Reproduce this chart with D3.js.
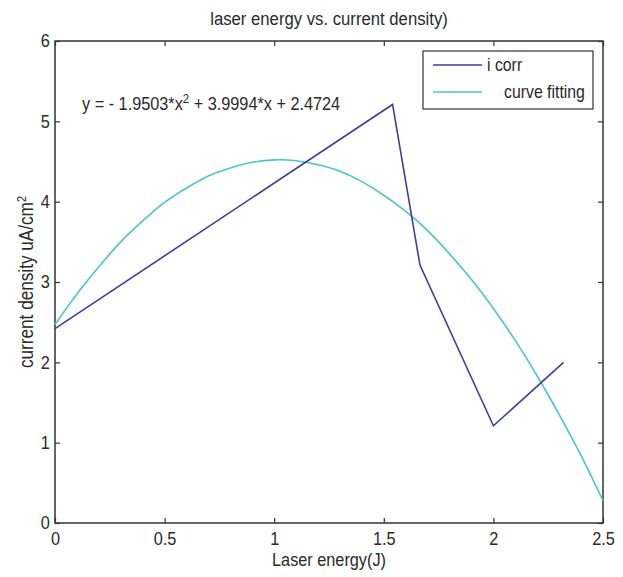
<!DOCTYPE html>
<html>
<head>
<meta charset="utf-8">
<script src="https://cdn.jsdelivr.net/npm/d3@7"></script>
<style>
  body { margin: 0; background: #fff; }
  text { font-family: "Liberation Sans", Arial, sans-serif; fill: #2a2a2a; }
</style>
</head>
<body>
<div id="graph"></div>
<script>
// i corr measurements
var corrX = [0, 1.54, 1.665, 2.0, 2.32];
var corrY = [2.42, 5.21, 3.21, 1.21, 2.0];

// curve fitting
var fitX = [0, 0.1, 0.2, 0.3, 0.4, 0.5, 0.6, 0.7, 0.8, 0.9, 1.0, 1.1, 1.2, 1.3,
            1.4, 1.5, 1.6, 1.7, 1.8, 1.9, 2.0, 2.1, 2.2, 2.3, 2.4, 2.5];
var fitY = [2.47, 2.85, 3.19, 3.50, 3.76, 3.99, 4.17, 4.32, 4.42, 4.49, 4.52, 4.51, 4.46, 4.38,
            4.25, 4.08, 3.88, 3.64, 3.35, 3.03, 2.67, 2.27, 1.83, 1.35, 0.84, 0.28];

var xTicks = [0, 0.5, 1, 1.5, 2, 2.5];
var yTicks = [0, 1, 2, 3, 4, 5, 6];
var seriesNames = ["i corr", "curve fitting"];
var colors = ["#3e3e9c", "#4cc6c6"];

var width = 623, height = 577;
var margin = { top: 41, right: 20, bottom: 54, left: 55 };
var w = width - margin.left - margin.right,
    h = height - margin.top - margin.bottom;
var squeeze = 0.88; // the text in the picture is horizontally compressed

var svg = d3.select("#graph")
  .append("svg")
  .attr("width", width)
  .attr("height", height);

var g = svg.append("g")
  .attr("transform", "translate(" + margin.left + "," + margin.top + ")");

var x = d3.scaleLinear().domain([0, 2.5]).range([0, w]);
var y = d3.scaleLinear().domain([0, 6]).range([h, 0]);

// narrow text placed at (px, py)
function label(parent, px, py, size, anchor) {
  return parent.append("g")
    .attr("transform", "translate(" + px + "," + py + ") scale(" + squeeze + ",1)")
    .append("text")
    .style("text-anchor", anchor || "start")
    .style("font-size", size + "px");
}

// title
label(svg, margin.left + w / 2, 25, 19, "middle")
  .text("laser energy vs. current density)");

// axes with inward ticks, box style
function styleAxis(sel) {
  sel.select(".domain").remove();
  sel.selectAll(".tick line").attr("stroke", "#333").attr("stroke-width", 1.2);
  sel.selectAll(".tick text")
    .style("font-size", "18.5px")
    .attr("fill", "#2a2a2a")
    .attr("transform", "scale(" + squeeze + ",1)");
}

g.append("g")
  .attr("transform", "translate(0," + h + ")")
  .call(d3.axisBottom(x).tickValues(xTicks).tickSize(-5).tickPadding(9)
    .tickFormat(function(d) { return d; }))
  .call(styleAxis);

g.append("g")
  .call(d3.axisTop(x).tickValues(xTicks).tickSize(-5).tickFormat(""))
  .call(styleAxis);

g.append("g")
  .call(d3.axisLeft(y).tickValues(yTicks).tickSize(-5).tickPadding(6)
    .tickFormat(function(d) { return d; }))
  .call(styleAxis);

g.append("g")
  .attr("transform", "translate(" + w + ",0)")
  .call(d3.axisRight(y).tickValues(yTicks).tickSize(-5).tickFormat(""))
  .call(styleAxis);

g.append("rect")
  .attr("width", w)
  .attr("height", h)
  .attr("fill", "none")
  .attr("stroke", "#333")
  .attr("stroke-width", 1.5);

// lines
var line = d3.line()
  .x(function(d) { return x(d[0]); })
  .y(function(d) { return y(d[1]); });

g.append("path")
  .datum(d3.zip(fitX, fitY))
  .attr("fill", "none")
  .attr("stroke", colors[1])
  .attr("stroke-width", 1.6)
  .attr("d", line.curve(d3.curveNatural));

g.append("path")
  .datum(d3.zip(corrX, corrY))
  .attr("fill", "none")
  .attr("stroke", colors[0])
  .attr("stroke-width", 1.6)
  .attr("d", line.curve(d3.curveLinear));

// equation
var eq = label(g, 27, 69, 18.5);
eq.append("tspan").text("y = - 1.9503*x");
eq.append("tspan").attr("dy", -7).style("font-size", "13px").text("2");
eq.append("tspan").attr("dy", 7).text(" + 3.9994*x + 2.4724");

// legend
var leg = g.append("g").attr("transform", "translate(" + (x(2.5) - 180) + ",10)");
leg.append("rect")
  .attr("width", 170)
  .attr("height", 58)
  .attr("fill", "#fff")
  .attr("stroke", "#333")
  .attr("stroke-width", 1.2);
seriesNames.forEach(function(name, i) {
  var yy = 14 + i * 27;
  leg.append("line")
    .attr("x1", 10).attr("x2", 59)
    .attr("y1", yy).attr("y2", yy)
    .attr("stroke", colors[i])
    .attr("stroke-width", 1.6);
  label(leg, i == 0 ? 64 : 81, yy + 6, 18).text(name);
});

// axis labels
label(svg, margin.left + w / 2, 566, 18.5, "middle").text("Laser energy(J)");

var yl = svg.append("g")
  .attr("transform", "translate(33," + 282 + ") rotate(-90) scale(" + squeeze + ",1)")
  .append("text")
  .style("text-anchor", "middle")
  .style("font-size", "19.5px");
yl.append("tspan").text("current density uA/cm");
yl.append("tspan").attr("dy", -7).style("font-size", "12.5px").text("2");
</script>
</body>
</html>
